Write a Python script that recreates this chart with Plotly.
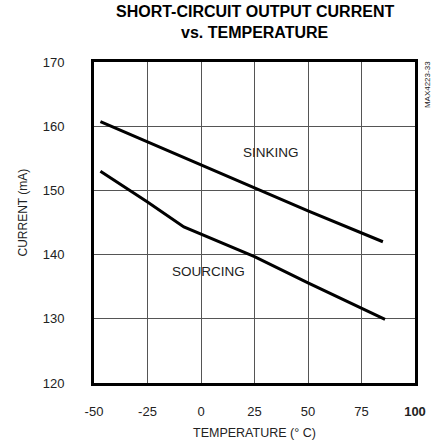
import plotly.graph_objects as go

# data
temp_sinking = [-47, 0, 25, 50, 85]
current_sinking = [160.7, 154.0, 150.4, 146.8, 142.0]

temp_sourcing = [-47, -25, -8, 25, 50, 86]
current_sourcing = [153.0, 148.2, 144.3, 139.7, 135.6, 129.9]

x_ticks = [-50, -25, 0, 25, 50, 75, 100]
x_ticktext = ["-50", "-25", "0", "25", "50", "75", "<b>100</b>"]
y_ticks = [120, 130, 140, 150, 160, 170]

FONT = "Liberation Sans, Arial, Helvetica, sans-serif"

fig = go.Figure()
fig.add_trace(go.Scatter(x=temp_sinking, y=current_sinking, mode="lines",
                         line=dict(color="black", width=3), name="SINKING"))
fig.add_trace(go.Scatter(x=temp_sourcing, y=current_sourcing, mode="lines",
                         line=dict(color="black", width=3), name="SOURCING"))

# curve labels
fig.add_annotation(x=32.7, y=155.9, text="SINKING", showarrow=False,
                   font=dict(size=13.5, color="#222", family=FONT))
fig.add_annotation(x=3.3, y=137.3, text="SOURCING", showarrow=False,
                   font=dict(size=13.5, color="#222", family=FONT))

# title, two lines
fig.add_annotation(xref="paper", yref="paper", x=0.5, y=1, yshift=51,
                   yanchor="middle", showarrow=False,
                   text="<b>SHORT-CIRCUIT OUTPUT CURRENT</b>",
                   font=dict(size=16, color="black", family=FONT))
fig.add_annotation(xref="paper", yref="paper", x=0.5, y=1, yshift=30,
                   yanchor="middle", showarrow=False,
                   text="<b>vs. TEMPERATURE</b>",
                   font=dict(size=16, color="black", family=FONT))

# axis titles
fig.add_annotation(xref="paper", yref="paper", x=0, y=0.5, xshift=-72, yshift=10,
                   xanchor="center", yanchor="middle", textangle=-90,
                   showarrow=False, text="CURRENT (mA)",
                   font=dict(size=12, color="#222", family=FONT))
fig.add_annotation(xref="paper", yref="paper", x=0.5, y=0, yshift=-50,
                   xanchor="center", yanchor="middle",
                   showarrow=False, text="TEMPERATURE (° C)",
                   font=dict(size=12.5, color="#222", family=FONT))

# part number at the right edge
fig.add_annotation(xref="paper", yref="paper", x=1.0, y=0.928, xshift=12,
                   xanchor="center", yanchor="middle",
                   text="MAX4223-33", textangle=-90, showarrow=False,
                   font=dict(size=8, color="#222", family=FONT))

fig.update_layout(
    width=439, height=447,
    margin=dict(l=94, r=24, t=62, b=64),
    paper_bgcolor="white", plot_bgcolor="white",
    showlegend=False,
    font=dict(family=FONT, size=13, color="#222"),
    xaxis=dict(range=[-50, 100], tickvals=x_ticks, ticktext=x_ticktext,
               showgrid=True, gridcolor="#555", gridwidth=1,
               showline=True, linecolor="black", linewidth=3, mirror=True,
               zeroline=False, ticks="", ticklabelstandoff=14,
               automargin=False),
    yaxis=dict(range=[120, 170], tickvals=y_ticks,
               showgrid=True, gridcolor="#555", gridwidth=1,
               showline=True, linecolor="black", linewidth=3, mirror=True,
               zeroline=False, ticks="", ticklabelstandoff=24,
               automargin=False),
)

# drop the default 8px body margin so the figure fills the window
fig.write_html("out.html", config={"displayModeBar": False},
               post_script="document.body.style.margin='0';")
